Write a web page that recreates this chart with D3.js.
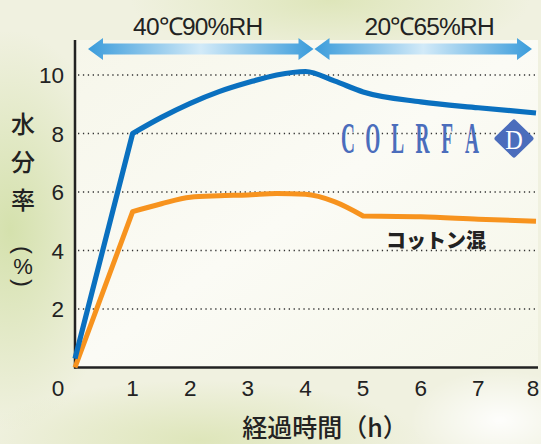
<!DOCTYPE html>
<html>
<head>
<meta charset="utf-8">
<script src="https://cdn.jsdelivr.net/npm/d3@7"></script>
<style>
  body { margin: 0; background: #f1f2e2; }
  svg { display: block; }
</style>
</head>
<body>
<div id="chart"></div>
<script>
// data
var hours    = [0, 1, 1.5, 2, 2.5, 3, 3.5, 4, 4.5, 5, 6, 7, 8];
var colrfaD  = [0.3, 8.0, 8.55, 9.03, 9.43, 9.74, 10.0, 10.12, 9.8, 9.42, 9.08, 8.88, 8.7];
var cotton   = [0, 5.33, 5.6, 5.82, 5.87, 5.9, 5.95, 5.92, 5.67, 5.18, 5.15, 5.07, 5.0];
var xTicks   = [1, 2, 3, 4, 5, 6, 7, 8];
var yTicks   = [2, 4, 6, 8, 10];
var phases   = [["40℃90%RH", 0, 4], ["20℃65%RH", 4, 8]];
var yTitle   = ["水", "分", "率"];
var logoText = ["C", "O", "L", "R", "F", "A"];

var W = 541, H = 444;
var svg = d3.select("#chart").append("svg").attr("width", W).attr("height", H);

var x = d3.scaleLinear().domain([0, 8]).range([75, 536]);
var y = d3.scaleLinear().domain([0, 10]).range([367.5, 75]);

// background blobs
var defs = svg.append("defs");
function blob(id, col, op) {
	var g = defs.append("radialGradient").attr("id", id);
	g.append("stop").attr("offset", "0%").attr("stop-color", col).attr("stop-opacity", op);
	g.append("stop").attr("offset", "100%").attr("stop-color", col).attr("stop-opacity", 0);
}
blob("g1", "#d3e0aa", 0.95);
blob("g2", "#dde5b8", 0.95);
blob("g3", "#ffffff", 0.9);
svg.append("rect").attr("width", W).attr("height", H).attr("fill", "#f0f1e0");
svg.append("ellipse").attr("cx", 10).attr("cy", 230).attr("rx", 110).attr("ry", 200).attr("fill", "url(#g1)");
svg.append("ellipse").attr("cx", 330).attr("cy", 0).attr("rx", 200).attr("ry", 60).attr("fill", "url(#g2)");
svg.append("ellipse").attr("cx", 200).attr("cy", 440).attr("rx", 220).attr("ry", 60).attr("fill", "url(#g2)");
svg.append("ellipse").attr("cx", 500).attr("cy", 420).attr("rx", 90).attr("ry", 50).attr("fill", "url(#g3)");

// plot panel
var pg = defs.append("linearGradient").attr("id", "panel").attr("x1", 0).attr("y1", 0).attr("x2", 1).attr("y2", 1);
pg.append("stop").attr("offset", "0%").attr("stop-color", "#f6f6ea");
pg.append("stop").attr("offset", "50%").attr("stop-color", "#fbfbf5");
pg.append("stop").attr("offset", "100%").attr("stop-color", "#f5f6e8");
svg.append("rect").attr("x", 75).attr("y", 40).attr("width", 463).attr("height", 328).attr("fill", "url(#panel)");

// grid
svg.selectAll(".grid").data(yTicks).enter().append("line")
	.attr("x1", 78).attr("x2", 537)
	.attr("y1", function(d) { return y(d); }).attr("y2", function(d) { return y(d); })
	.attr("stroke", "#333").attr("stroke-width", 1.3).attr("stroke-dasharray", "1.3,3.6");

// phase arrows
var ag = defs.append("linearGradient").attr("id", "arrow").attr("x1", 0).attr("x2", 1).attr("y1", 0).attr("y2", 0);
ag.append("stop").attr("offset", "0%").attr("stop-color", "#3b9cdb");
ag.append("stop").attr("offset", "50%").attr("stop-color", "#d2eaf8");
ag.append("stop").attr("offset", "100%").attr("stop-color", "#3b9cdb");
phases.forEach(function(p, i) {
	var a0 = i == 0 ? x(p[1]) + 13 : x(p[1]) + 9;
	var a1 = i == phases.length - 1 ? x(p[2]) - 4 : x(p[2]) + 8;
	var cy = 49, hh = 11, sh = 5.5, hl = 15;
	svg.append("path")
		.attr("d", "M" + a0 + "," + cy + " L" + (a0 + hl) + "," + (cy - hh) + " L" + (a0 + hl) + "," + (cy - sh) +
			" L" + (a1 - hl) + "," + (cy - sh) + " L" + (a1 - hl) + "," + (cy - hh) + " L" + a1 + "," + cy +
			" L" + (a1 - hl) + "," + (cy + hh) + " L" + (a1 - hl) + "," + (cy + sh) + " L" + (a0 + hl) + "," + (cy + sh) +
			" L" + (a0 + hl) + "," + (cy + hh) + " Z")
		.attr("fill", "url(#arrow)");
	svg.append("text").attr("x", (a0 + a1) / 2 + (i == 0 ? -3 : 6)).attr("y", 35)
		.attr("text-anchor", "middle").attr("font-family", "Liberation Sans, sans-serif")
		.attr("font-size", 24.5).attr("fill", "#222").attr("letter-spacing", -0.8)
		.text(p[0]);
});

// axes
svg.append("line").attr("x1", 75).attr("x2", 75).attr("y1", 40).attr("y2", 368.5).attr("stroke", "#222").attr("stroke-width", 2.5);
svg.append("line").attr("x1", 74).attr("x2", 538).attr("y1", 367.5).attr("y2", 367.5).attr("stroke", "#222").attr("stroke-width", 2.5);

svg.selectAll(".yl").data(yTicks).enter().append("text")
	.attr("x", 64).attr("y", function(d) { return y(d); }).attr("dy", "0.36em")
	.attr("text-anchor", "end").attr("font-family", "Liberation Sans, sans-serif")
	.attr("font-size", 22.5).attr("fill", "#222").text(function(d) { return d; });

svg.selectAll(".xl").data(xTicks).enter().append("text")
	.attr("x", function(d) { return Math.min(x(d), 533); }).attr("y", 395.5)
	.attr("text-anchor", "middle").attr("font-family", "Liberation Sans, sans-serif")
	.attr("font-size", 22.5).attr("fill", "#222").text(function(d) { return d; });
svg.append("text").attr("x", 58).attr("y", 395.5).attr("text-anchor", "middle")
	.attr("font-family", "Liberation Sans, sans-serif").attr("font-size", 22.5).attr("fill", "#222").text("0");

// axis titles
svg.append("text").attr("x", 325).attr("y", 437).attr("text-anchor", "middle")
	.attr("font-family", "Noto Sans CJK JP, sans-serif").attr("font-weight", 500)
	.attr("font-size", 25).attr("fill", "#222").text("経過時間（h）");

svg.selectAll(".yt").data(yTitle).enter().append("text")
	.attr("x", 23).attr("y", function(d, i) { return 124 + i * 38; }).attr("dy", "0.38em")
	.attr("text-anchor", "middle").attr("font-family", "Noto Sans CJK JP, sans-serif").attr("font-weight", 500)
	.attr("font-size", 24).attr("fill", "#222").text(function(d) { return d; });
svg.append("text").attr("transform", "translate(23,250) rotate(90)").attr("dy", "0.35em")
	.attr("text-anchor", "middle").attr("font-family", "Liberation Sans, sans-serif")
	.attr("font-size", 24).attr("fill", "#222").text("(");
svg.append("text").attr("x", 23).attr("y", 266).attr("dy", "0.35em")
	.attr("text-anchor", "middle").attr("font-family", "Liberation Sans, sans-serif")
	.attr("font-size", 22).attr("fill", "#222").text("%");
svg.append("text").attr("transform", "translate(23,283) rotate(90)").attr("dy", "0.35em")
	.attr("text-anchor", "middle").attr("font-family", "Liberation Sans, sans-serif")
	.attr("font-size", 24).attr("fill", "#222").text(")");

// lines: smooth pieces joined at sharp corners
var line = d3.line().curve(d3.curveMonotoneX)
	.x(function(d) { return x(d[0]); }).y(function(d) { return y(d[1]); });
function drawSeries(vals, corners, color, w) {
	var pts = hours.map(function(h, i) { return [h, vals[i]]; });
	var cuts = [0].concat(corners.map(function(c) { return hours.indexOf(c); }), [hours.length - 1]);
	var d = "";
	for (var k = 0; k < cuts.length - 1; k++) {
		var seg = line(pts.slice(cuts[k], cuts[k + 1] + 1));
		d += k == 0 ? seg : seg.replace(/^M[^A-Z]*/, "");
	}
	svg.append("path").attr("d", d).attr("fill", "none").attr("stroke", color)
		.attr("stroke-width", w).attr("stroke-linejoin", "round");
}
drawSeries(cotton, [1, 5], "#f7931e", 5);
drawSeries(colrfaD, [1], "#0a70bf", 5.2);

// labels
svg.append("text").attr("x", 436).attr("y", 248).attr("text-anchor", "middle")
	.attr("font-family", "Noto Sans CJK JP, sans-serif").attr("font-weight", 900)
	.attr("font-size", 20).attr("fill", "#222").text("コットン混");

var logo = svg.append("g").attr("fill", "#4b6dbc");
logoText.forEach(function(c, i) {
	logo.append("text").attr("transform", "translate(" + (348 + i * 24.8) + ",152.5) scale(0.44,1)")
		.attr("text-anchor", "middle").attr("font-family", "Liberation Serif, serif").attr("font-weight", "bold")
		.attr("font-size", 44).text(c);
});
logo.append("path").attr("d", "M514,122 L531,138.5 L514,155 L497,138.5 Z")
	.attr("stroke", "#4b6dbc").attr("stroke-width", 5).attr("stroke-linejoin", "round");
svg.append("text").attr("x", 514).attr("y", 149).attr("text-anchor", "middle")
	.attr("font-family", "Liberation Serif, serif").attr("font-size", 27).attr("fill", "#fff")
	.attr("transform", "translate(514,0) scale(0.9,1) translate(-514,0)").text("D");
</script>
</body>
</html>
